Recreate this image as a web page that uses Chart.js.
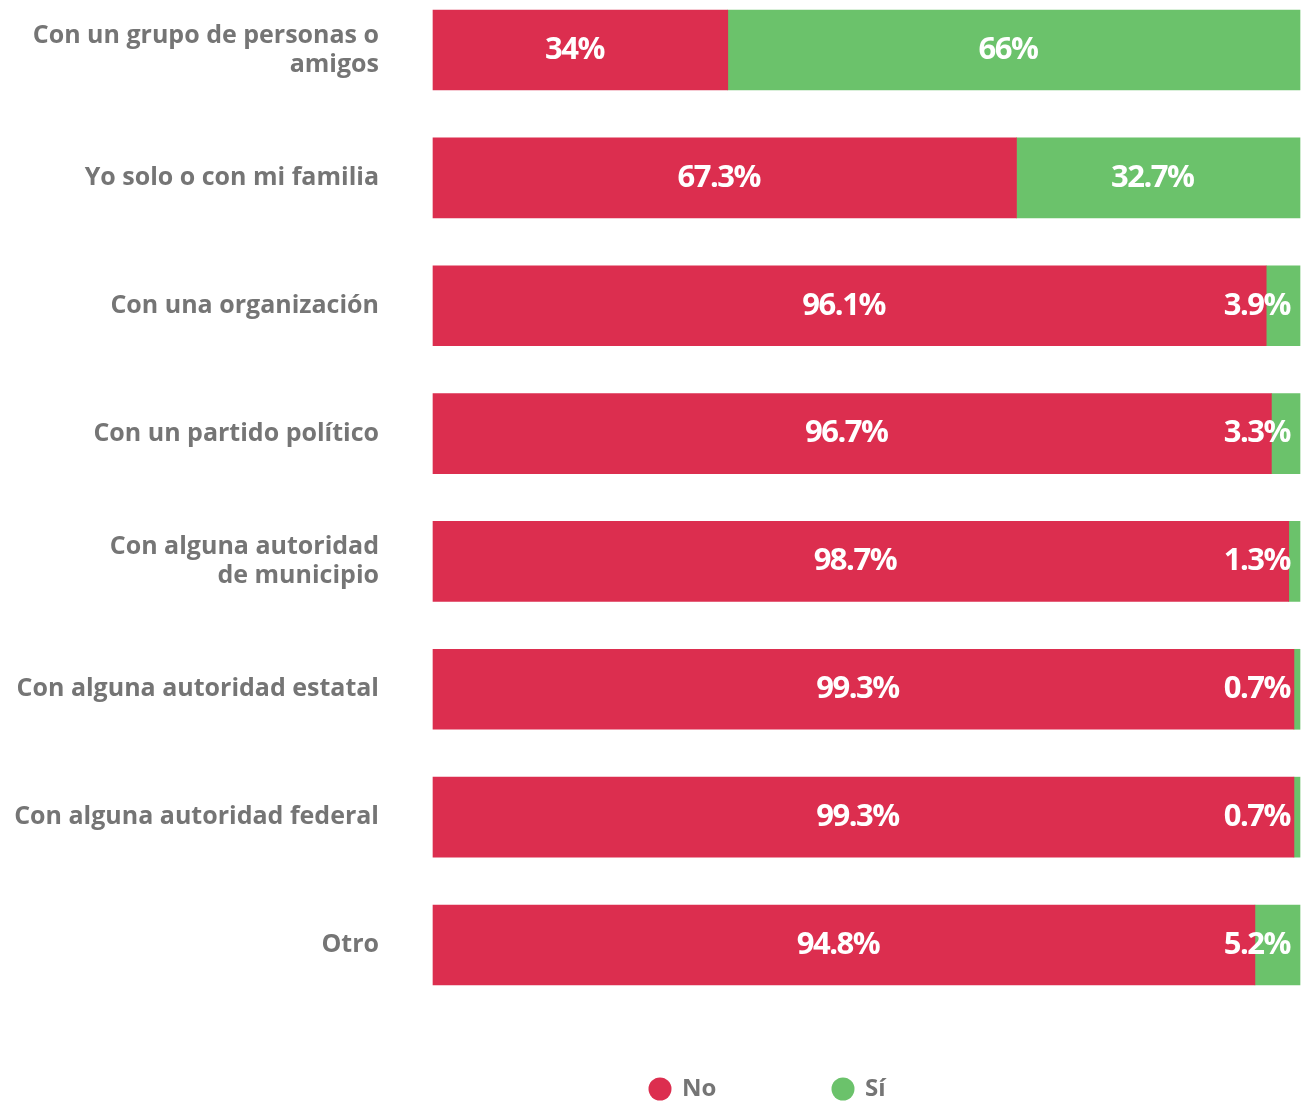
<!DOCTYPE html>
<html>
<head>
<meta charset="utf-8">
<script src="https://cdn.jsdelivr.net/npm/chart.js@4.4.0/dist/chart.umd.min.js"></script>
<style>
  html, body { margin: 0; padding: 0; background: #ffffff; }
  #wrap { position: relative; width: 1303px; height: 1101px; }
</style>
</head>
<body>
<div id="wrap"><canvas id="c" width="1303" height="1101"></canvas></div>
<script>
const categories = [
  ["Con un grupo de personas o", "amigos"],
  "Yo solo o con mi familia",
  "Con una organización",
  "Con un partido político",
  ["Con alguna autoridad", "de municipio"],
  "Con alguna autoridad estatal",
  "Con alguna autoridad federal",
  "Otro"
];
const seriesNames = ["No", "Sí"];
const noValues = [34, 67.3, 96.1, 96.7, 98.7, 99.3, 99.3, 94.8];
const siValues = [66, 32.7, 3.9, 3.3, 1.3, 0.7, 0.7, 5.2];
const colors = ["#DC2E4F", "#6BC26B"];
const AXIS_FONT = "'Open Sans', sans-serif";
const VAL_FONT = "'Open Sans', sans-serif";

const labelPlugin = {
  id: 'segLabels',
  afterDatasetsDraw(chart) {
    const ctx = chart.ctx;
    const area = chart.chartArea;
    ctx.save();
    ctx.font = "bold 31px " + VAL_FONT;
    if ('letterSpacing' in ctx) ctx.letterSpacing = "-1.5px";
    ctx.fillStyle = "#ffffff";
    ctx.textBaseline = "middle";
    ctx.textAlign = "center";
    chart.data.datasets.forEach((ds, di) => {
      const meta = chart.getDatasetMeta(di);
      meta.data.forEach((bar, i) => {
        const v = ds.data[i];
        const txt = v + "%";
        const w = ctx.measureText(txt).width;
        const left = bar.base, right = bar.x;
        let cx = (left + right) / 2 - 6;
        const maxX = area.right - 10 - w / 2;
        if (cx > maxX) cx = maxX;
        ctx.fillText(txt, cx, bar.y);
      });
    });
    ctx.restore();
  }
};

const legendPlugin = {
  id: 'customLegend',
  afterDraw(chart) {
    const ctx = chart.ctx;
    ctx.save();
    ctx.font = "bold 24px " + AXIS_FONT;
    ctx.textBaseline = "middle";
    ctx.textAlign = "left";
    const y = 1089;
    const xs = [660, 843];
    chart.data.datasets.forEach((ds, i) => {
      ctx.fillStyle = ds.backgroundColor;
      ctx.beginPath();
      ctx.arc(xs[i], y, 11.5, 0, Math.PI * 2);
      ctx.fill();
      ctx.fillStyle = "#757575";
      ctx.fillText(ds.label, xs[i] + 22, y);
    });
    ctx.restore();
  }
};

new Chart(document.getElementById('c'), {
  type: 'bar',
  data: {
    labels: categories,
    datasets: [
      { label: seriesNames[0], data: noValues, backgroundColor: colors[0], barThickness: 80, clip: false },
      { label: seriesNames[1], data: siValues, backgroundColor: colors[1], barThickness: 80, clip: false }
    ]
  },
  options: {
    indexAxis: 'y',
    responsive: false,
    animation: false,
    layout: { padding: { top: 50, bottom: 156, left: 0, right: 3 } },
    plugins: {
      legend: { display: false },
      tooltip: { enabled: false }
    },
    scales: {
      x: {
        stacked: true,
        min: 0,
        max: 100,
        display: false
      },
      y: {
        stacked: true,
        offset: false,
        grid: { display: false, drawTicks: false, offset: false },
        border: { display: false },
        ticks: {
          padding: 54,
          color: "#757575",
          font: { family: AXIS_FONT, size: 25, weight: 'bold', lineHeight: 1.16 }
        },
        afterFit(scale) {
          scale.width = 433;
          scale.paddingTop = 0;
          scale.paddingBottom = 0;
        }
      }
    }
  },
  plugins: [labelPlugin, legendPlugin]
});
</script>
</body>
</html>
